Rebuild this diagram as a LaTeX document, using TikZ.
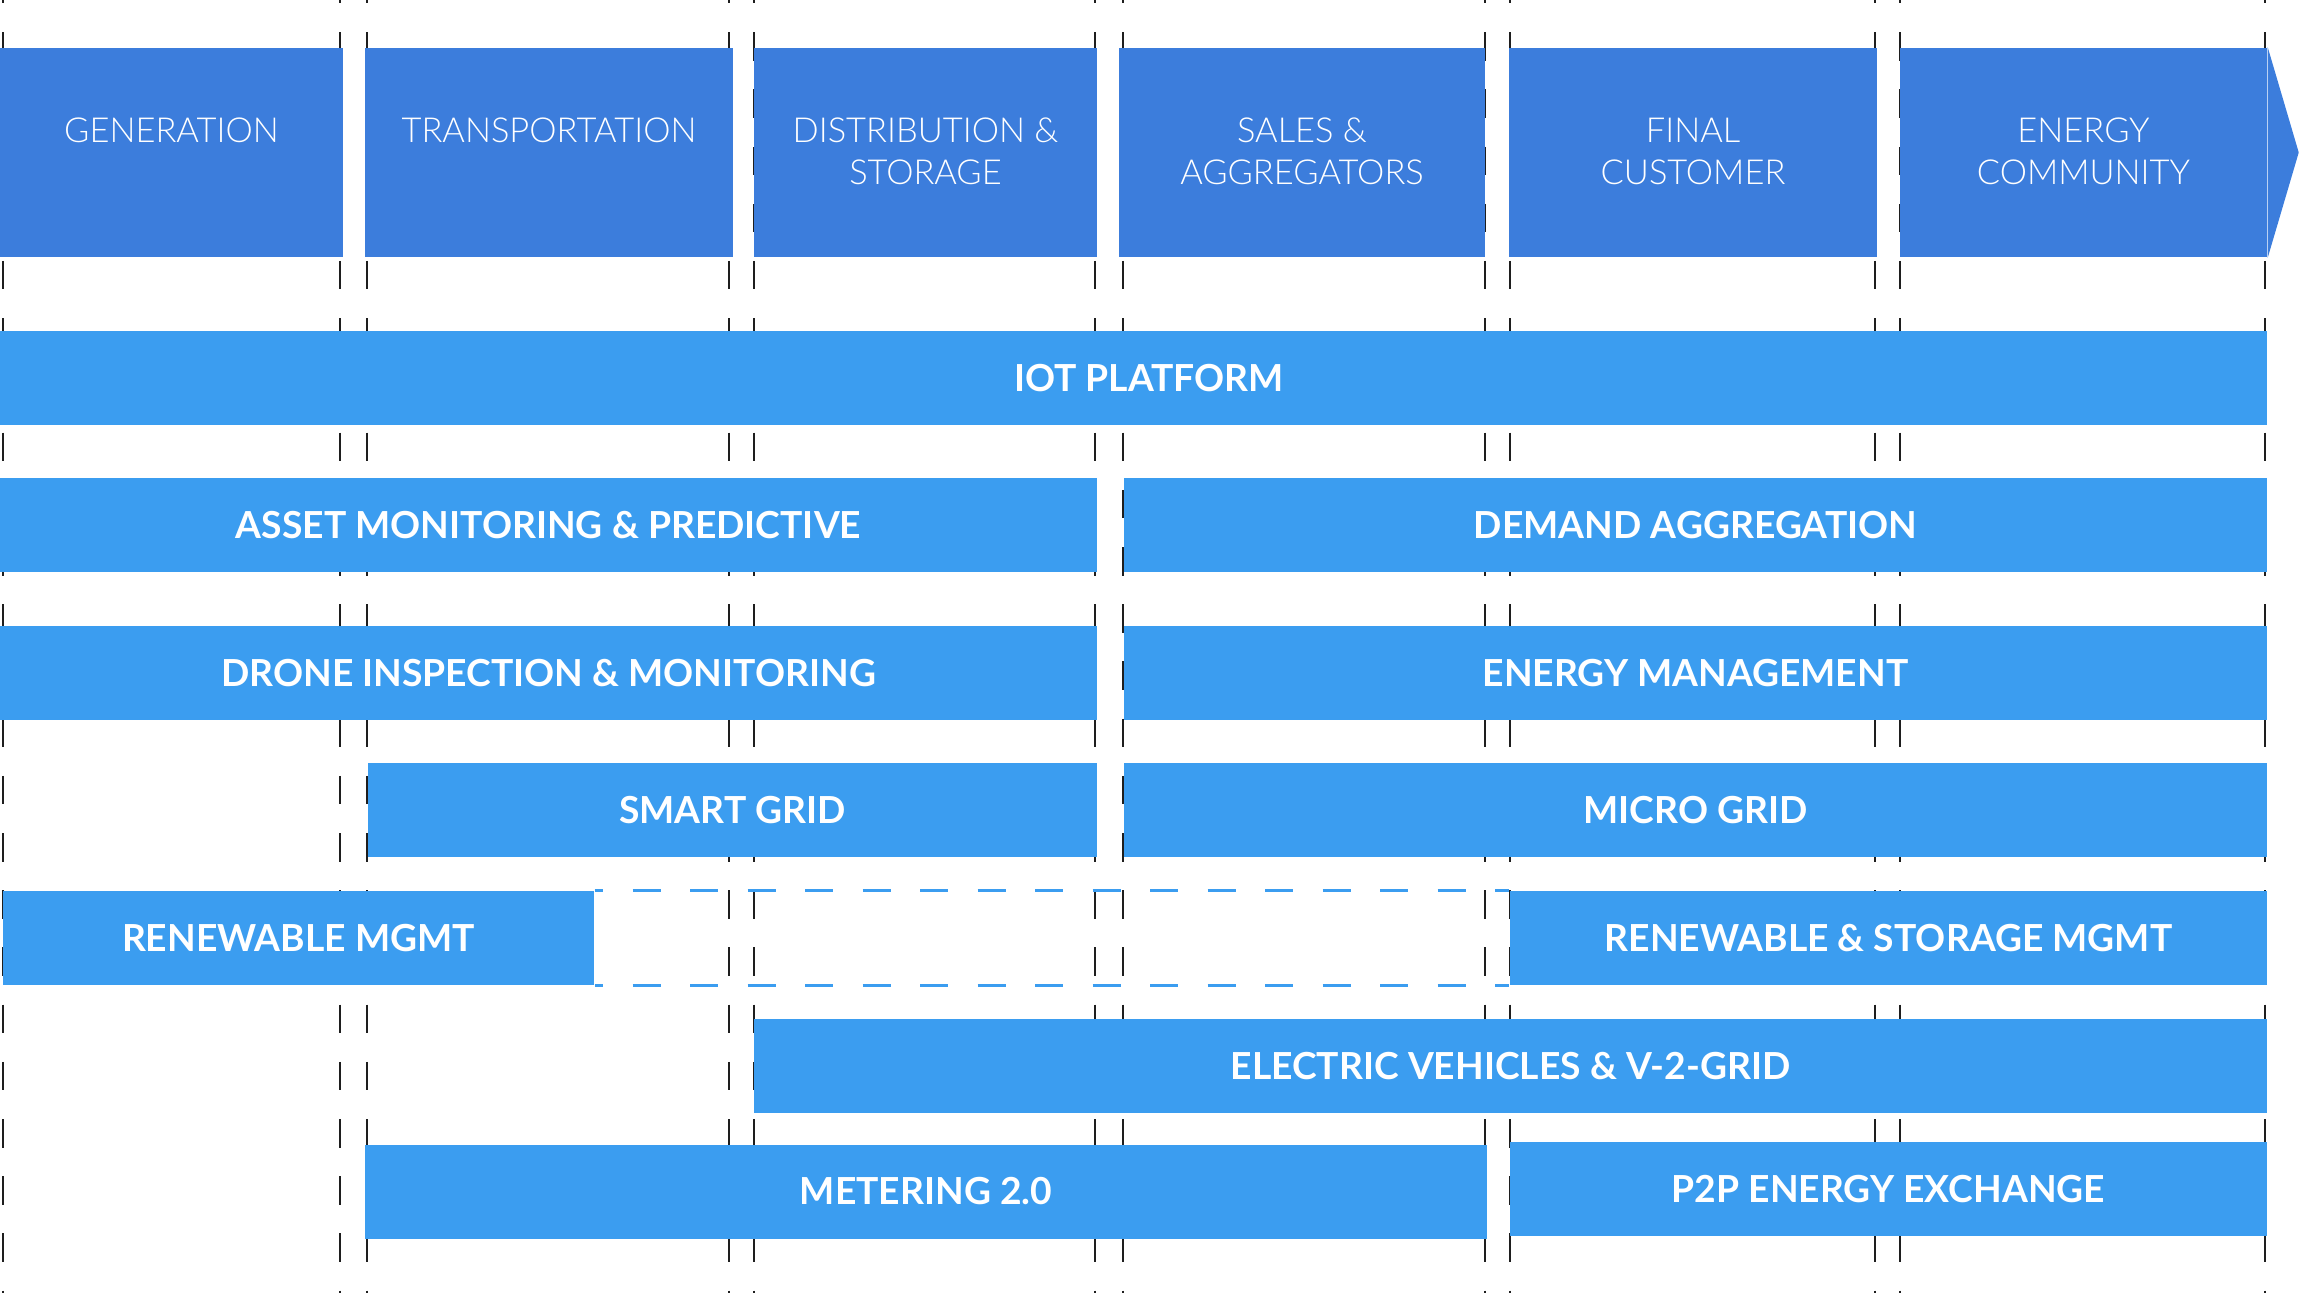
\documentclass[tikz,border=0pt]{standalone}
\usepackage{fontspec}
\setmainfont{Lato}
\newfontfamily\lightfont{Lato Light}

\definecolor{headblue}{HTML}{3C7DDC}
\definecolor{barblue}{HTML}{3B9DF0}
\definecolor{guidegray}{HTML}{1E1E1E}

\tikzset{
  headbox/.style={fill=headblue, minimum height=2.09cm, inner sep=0},
  headtext/.style={text=white, font=\lightfont\fontsize{9.8}{11.95}\selectfont, align=center, anchor=north, inner sep=0},
  bartext/.style={text=white, font=\bfseries\fontsize{10.6}{12}\selectfont, inner sep=0},
  bar/.style={bartext, fill=barblue, minimum height=0.94cm},
  guideline/.style={guidegray, line width=0.022cm, dash pattern=on 0.285cm off 0.287cm, dash phase=0.25cm},
  dashframe/.style={barblue, line width=0.03cm, dash pattern=on 0.28cm off 0.295cm, dash phase=0.195cm}
}

\begin{document}
\begin{tikzpicture}
    \useasboundingbox (0,0) rectangle (22.99,12.93);

    % Column guides
    \foreach \x in {0.03,3.40,3.67,7.29,7.54,10.95,11.23,14.85,15.10,18.75,19.00,22.65}
        \draw[guideline] (\x,12.93) -- (\x,0);

    % Value chain steps
    \node[headbox, minimum width=3.43cm] (gen) at (1.715,11.405) {};
    \node[headbox, minimum width=3.68cm] (trans) at (5.49,11.405) {};
    \node[headbox, minimum width=3.43cm] (dist) at (9.255,11.405) {};
    \node[headbox, minimum width=3.66cm] (sales) at (13.02,11.405) {};
    \node[headbox, minimum width=3.68cm] (final) at (16.93,11.405) {};
    \node[headbox, minimum width=3.67cm] (comm) at (20.835,11.405) {};
    \fill[headblue] (comm.north east) -- ([xshift=0.31cm]comm.east) -- (comm.south east) -- cycle;

    \node[headtext] (gentext) at ([yshift=-0.70cm]gen.north) {GENERATION};
    \node[headtext] (transtext) at ([yshift=-0.70cm]trans.north) {TRANSPORTATION};
    \node[headtext] (disttext) at ([yshift=-0.70cm]dist.north) {DISTRIBUTION \&\\STORAGE};
    \node[headtext] (salestext) at ([yshift=-0.70cm]sales.north) {SALES \&\\AGGREGATORS};
    \node[headtext] (finaltext) at ([yshift=-0.70cm]final.north) {FINAL\\CUSTOMER};
    \node[headtext] (commtext) at ([yshift=-0.70cm]comm.north) {ENERGY\\COMMUNITY};

    % Solutions
    \node[bar, minimum width=22.67cm] (iot) at (11.335,9.15) {};
    \node[bartext] (iottext) at (11.49,9.15) {IOT PLATFORM};

    \node[bar, minimum width=10.97cm] (asset) at (5.485,7.68) {ASSET MONITORING \& PREDICTIVE};
    \node[bar, minimum width=11.43cm] (demand) at (16.955,7.68) {DEMAND AGGREGATION};

    \node[bar, minimum width=10.97cm] (drone) at (5.485,6.20) {DRONE INSPECTION \& MONITORING};
    \node[bar, minimum width=11.43cm] (energy) at (16.955,6.20) {ENERGY MANAGEMENT};

    \node[bar, minimum width=7.29cm] (smart) at (7.325,4.83) {SMART GRID};
    \node[bar, minimum width=11.43cm] (micro) at (16.955,4.83) {MICRO GRID};

    \node[bar, minimum width=5.91cm] (renew) at (2.985,3.55) {RENEWABLE MGMT};
    \node[bar, minimum width=7.57cm] (store) at (18.885,3.55) {RENEWABLE \& STORAGE MGMT};
    \draw[dashframe] (renew.north east) -- (store.north west) (renew.south east) -- (store.south west);

    \node[bar, minimum width=15.13cm] (ev) at (15.105,2.27) {ELECTRIC VEHICLES \& V-2-GRID};

    \node[bar, minimum width=11.22cm] (meter) at (9.26,1.015) {METERING 2.0};
    \node[bar, minimum width=7.57cm] (p2p) at (18.885,1.04) {P2P ENERGY EXCHANGE};
\end{tikzpicture}
\end{document}
